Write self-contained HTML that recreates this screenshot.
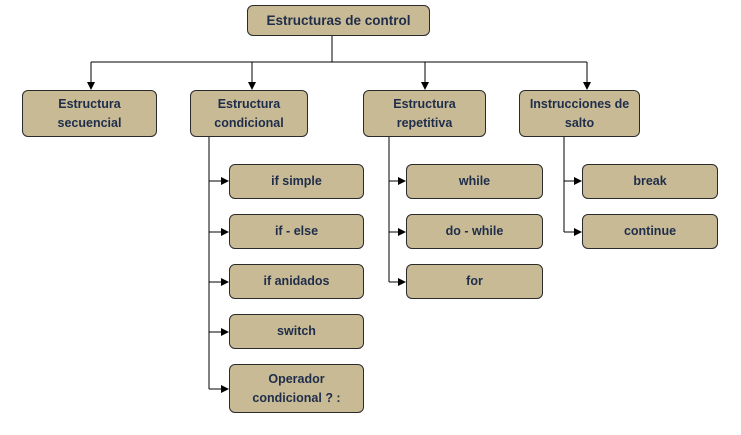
<!DOCTYPE html>
<html><head><style>
body{margin:0;width:741px;height:435px;background:#fff;position:relative;font-family:"Liberation Sans",sans-serif;overflow:hidden}
.b{position:absolute;box-sizing:border-box;background:#c7ba95;border:1.5px solid #2a2a2a;border-radius:6px;display:flex;align-items:center;justify-content:center;text-align:center;font-weight:bold;font-size:12.5px;color:#1f2d4a;line-height:19px}
svg{position:absolute;left:0;top:0}
</style></head><body>
<svg width="741" height="435">
<defs><marker id="a" markerWidth="8" markerHeight="8" refX="7" refY="4" orient="auto" markerUnits="userSpaceOnUse"><path d="M0,0 L8,4 L0,8z" fill="#000"/></marker></defs>
<g stroke="#000" stroke-width="1" fill="none">
<line x1="332" y1="35" x2="332" y2="62"/>
<line x1="91" y1="62" x2="587" y2="62"/>
<line x1="91" y1="62" x2="91" y2="89" marker-end="url(#a)"/>
<line x1="252" y1="62" x2="252" y2="89" marker-end="url(#a)"/>
<line x1="425" y1="62" x2="425" y2="89" marker-end="url(#a)"/>
<line x1="587" y1="62" x2="587" y2="89" marker-end="url(#a)"/>
<line x1="209" y1="137" x2="209" y2="389"/>
<line x1="209" y1="181" x2="228" y2="181" marker-end="url(#a)"/>
<line x1="209" y1="232" x2="228" y2="232" marker-end="url(#a)"/>
<line x1="209" y1="282" x2="228" y2="282" marker-end="url(#a)"/>
<line x1="209" y1="332" x2="228" y2="332" marker-end="url(#a)"/>
<line x1="209" y1="389" x2="228" y2="389" marker-end="url(#a)"/>
<line x1="389" y1="137" x2="389" y2="282"/>
<line x1="389" y1="181" x2="405" y2="181" marker-end="url(#a)"/>
<line x1="389" y1="232" x2="405" y2="232" marker-end="url(#a)"/>
<line x1="389" y1="282" x2="405" y2="282" marker-end="url(#a)"/>
<line x1="564" y1="137" x2="564" y2="232"/>
<line x1="564" y1="181" x2="581" y2="181" marker-end="url(#a)"/>
<line x1="564" y1="232" x2="581" y2="232" marker-end="url(#a)"/>
</g></svg>
<div class="b" style="left:247px;top:5px;width:183px;height:31px;font-size:13.5px">Estructuras de control</div>
<div class="b" style="left:22px;top:90px;width:135px;height:47px">Estructura<br>secuencial</div>
<div class="b" style="left:190px;top:90px;width:118px;height:47px">Estructura<br>condicional</div>
<div class="b" style="left:363px;top:90px;width:123px;height:47px">Estructura<br>repetitiva</div>
<div class="b" style="left:519px;top:90px;width:121px;height:47px">Instrucciones de<br>salto</div>
<div class="b" style="left:229px;top:164px;width:135px;height:35px">if simple</div>
<div class="b" style="left:229px;top:214px;width:135px;height:35px">if - else</div>
<div class="b" style="left:229px;top:264px;width:135px;height:35px">if anidados</div>
<div class="b" style="left:229px;top:314px;width:135px;height:35px">switch</div>
<div class="b" style="left:229px;top:364px;width:135px;height:49px">Operador<br>condicional ? :</div>
<div class="b" style="left:406px;top:164px;width:137px;height:35px">while</div>
<div class="b" style="left:406px;top:214px;width:137px;height:35px">do - while</div>
<div class="b" style="left:406px;top:264px;width:137px;height:35px">for</div>
<div class="b" style="left:582px;top:164px;width:136px;height:35px">break</div>
<div class="b" style="left:582px;top:214px;width:136px;height:35px">continue</div>
</body></html>
